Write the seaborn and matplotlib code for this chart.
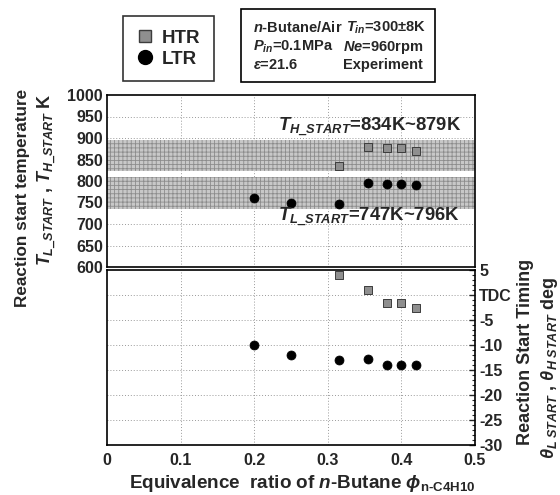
import matplotlib
matplotlib.use("Agg")
import matplotlib.pyplot as plt
from matplotlib.lines import Line2D
from matplotlib.patches import Rectangle
from matplotlib.ticker import MultipleLocator
import seaborn as sns
import pandas as pd

# Equivalence ratio of n-butane for each operating point
phi_htr = [0.315, 0.355, 0.38, 0.40, 0.42]
phi_ltr = [0.20, 0.25, 0.315, 0.355, 0.38, 0.40, 0.42]

# Reaction start temperatures [K]
t_htr = [834, 879, 876, 876, 869]
t_ltr = [761, 749, 747, 796, 794, 794, 791]

# Reaction start timing [deg ATDC]
theta_htr = [4, 1, -1.5, -1.5, -2.5]
theta_ltr = [-10, -12, -13, -12.8, -14, -14, -14]

# Shaded temperature ranges [K]
htr_band = (823, 896)
ltr_band = (736, 810)

x_ticks = [0, 0.1, 0.2, 0.3, 0.4, 0.5]
x_ticklabels = ["0", "0.1", "0.2", "0.3", "0.4", "0.5"]
theta_ticks = [5, 0, -5, -10, -15, -20, -25, -30]
theta_ticklabels = ["5", "TDC", "-5", "-10", "-15", "-20", "-25", "-30"]
temp_ticks = list(range(600, 1001, 50))

sns.set_style("white")
plt.rcParams["font.family"] = ["Liberation Sans", "DejaVu Sans"]
plt.rcParams["font.weight"] = "bold"
plt.rcParams["mathtext.fontset"] = "custom"
plt.rcParams["mathtext.rm"] = "Liberation Sans:bold"
plt.rcParams["mathtext.bf"] = "Liberation Sans:bold"
plt.rcParams["mathtext.it"] = "Liberation Sans:italic:bold"
plt.rcParams["hatch.linewidth"] = 0.6
plt.rcParams["hatch.color"] = "#8c8c8c"

df_htr = pd.DataFrame({"phi": phi_htr, "T": t_htr, "theta": theta_htr})
df_ltr = pd.DataFrame({"phi": phi_ltr, "T": t_ltr, "theta": theta_ltr})

W, H = 560, 495
fig = plt.figure(figsize=(W / 100, H / 100), dpi=100)

def fx(px):
    return px / W

def fy(py):
    return 1 - py / H

ax_t = fig.add_axes([fx(107), fy(267), fx(475) - fx(107), fy(95) - fy(267)])
ax_b = fig.add_axes([fx(107), fy(445), fx(475) - fx(107), fy(270) - fy(445)])

grid_kw = dict(color="#9a9a9a", linestyle=(0, (1, 2)), linewidth=0.7)
htr_style = dict(marker="s", s=36, color="#8f8f8f", edgecolor="#3c3c3c",
                 linewidth=0.7, zorder=3)
ltr_style = dict(marker="o", s=42, color="black", edgecolor="black", zorder=3)

# ---- upper panel: reaction start temperature ----
ax_t.set_xlim(0, 0.5)
ax_t.set_ylim(600, 1000)
for lo, hi in (htr_band, ltr_band):
    ax_t.axhspan(lo, hi, facecolor="#c8c8c8", edgecolor="#8c8c8c",
                 hatch="++++", linewidth=0, zorder=1)
for v in x_ticks[1:-1]:
    ax_t.axvline(v, zorder=0.5, **grid_kw)
for v in temp_ticks[1:-1]:
    ax_t.axhline(v, zorder=0.5, **grid_kw)

sns.scatterplot(data=df_htr, x="phi", y="T", ax=ax_t, **htr_style)
sns.scatterplot(data=df_ltr, x="phi", y="T", ax=ax_t, **ltr_style)

ax_t.set_yticks(temp_ticks)
ax_t.set_yticklabels([str(v) for v in temp_ticks], fontsize=11.5, fontweight="bold")
ax_t.yaxis.set_minor_locator(MultipleLocator(10))
ax_t.set_xticks(x_ticks)
ax_t.set_xticklabels([])
ax_t.xaxis.set_minor_locator(MultipleLocator(0.02))
ax_t.tick_params(axis="both", which="both", direction="in", top=False, right=False)
ax_t.tick_params(axis="both", which="major", length=4, width=1.0, pad=3)
ax_t.tick_params(axis="both", which="minor", length=2, width=0.8)
ax_t.set_xlabel("")
ax_t.set_ylabel("")
for s in ax_t.spines.values():
    s.set_visible(True)
    s.set_color("black")
    s.set_linewidth(1.2)

ax_t.text(0.232, 925, r"$T_{H\_START}$=834K~879K", fontsize=13.3,
          fontweight="bold", ha="left", va="center", zorder=4)
ax_t.text(0.232, 715, r"$T_{L\_START}$=747K~796K", fontsize=13.3,
          fontweight="bold", ha="left", va="center", zorder=4)

# ---- lower panel: reaction start timing ----
ax_b.set_xlim(0, 0.5)
ax_b.set_ylim(-30, 5)
for v in x_ticks[1:-1]:
    ax_b.axvline(v, zorder=0.5, **grid_kw)
for v in theta_ticks[1:-1]:
    ax_b.axhline(v, zorder=0.5, **grid_kw)

sns.scatterplot(data=df_htr, x="phi", y="theta", ax=ax_b, **htr_style)
sns.scatterplot(data=df_ltr, x="phi", y="theta", ax=ax_b, **ltr_style)

ax_b.yaxis.tick_right()
ax_b.set_yticks(theta_ticks)
ax_b.set_yticklabels(theta_ticklabels, fontsize=11.5, fontweight="bold")
ax_b.yaxis.set_minor_locator(MultipleLocator(1))
ax_b.set_xticks(x_ticks)
ax_b.set_xticklabels(x_ticklabels, fontsize=11.5, fontweight="bold")
ax_b.xaxis.set_minor_locator(MultipleLocator(0.02))
ax_b.tick_params(axis="both", which="both", direction="in", top=False,
                 left=False, right=True)
ax_b.tick_params(axis="both", which="major", length=4, width=1.0, pad=3)
ax_b.tick_params(axis="x", which="major", pad=6)
ax_b.tick_params(axis="both", which="minor", length=2, width=0.8)
ax_b.set_xlabel("")
ax_b.set_ylabel("")
for s in ax_b.spines.values():
    s.set_visible(True)
    s.set_color("black")
    s.set_linewidth(1.2)

# ---- axis titles ----
fig.text(fx(302), fy(484), r"Equivalence  ratio of $\it{n}$-Butane $\phi_{\mathrm{n\text{-}C4H10}}$",
         fontsize=13.6, fontweight="bold", ha="center", va="center")
fig.text(fx(23), fy(198), "Reaction start temperature", rotation=90,
         fontsize=12.3, fontweight="bold", ha="center", va="center")
fig.text(fx(47), fy(180), r"$T_{L\_START}$ , $T_{H\_START}$ K", rotation=90,
         fontsize=13, fontweight="bold", ha="center", va="center")
fig.text(fx(526), fy(352), "Reaction Start Timing", rotation=90,
         fontsize=13, fontweight="bold", ha="center", va="center")
fig.text(fx(549), fy(368), r"$\theta_{L\ START}$ , $\theta_{H\ START}$ deg", rotation=90,
         fontsize=13, fontweight="bold", ha="center", va="center")

# ---- symbol key ----
handles = [
    Line2D([], [], marker="s", linestyle="none", markersize=8.5,
           markerfacecolor="#8f8f8f", markeredgecolor="#3c3c3c"),
    Line2D([], [], marker="o", linestyle="none", markersize=10,
           markerfacecolor="black", markeredgecolor="black"),
]
leg = fig.legend(handles, ["HTR", "LTR"], loc="center",
                 bbox_to_anchor=(fx(168), fy(48.5)), frameon=True, fancybox=False,
                 prop={"weight": "bold", "size": 13.5}, handletextpad=0.4,
                 handlelength=1.0, borderpad=0.7, labelspacing=0.2,
                 borderaxespad=0)
leg.get_frame().set_edgecolor("black")
leg.get_frame().set_linewidth(1.2)

# ---- experimental conditions box ----
fig.patches.append(Rectangle((fx(241), fy(82)), fx(435) - fx(241), fy(9) - fy(82),
                             transform=fig.transFigure, fill=False,
                             edgecolor="black", linewidth=1.2))
cond_kw = dict(fontsize=10.5, fontweight="bold", ha="left", va="center")
fig.text(fx(253), fy(28), r"$\it{n}$-Butane/Air", **cond_kw)
fig.text(fx(346), fy(28), r"$T_{in}$=300±8K", **cond_kw)
fig.text(fx(253), fy(47), r"$P_{in}$=0.1MPa", **cond_kw)
fig.text(fx(343), fy(47), r"$Ne$=960rpm", **cond_kw)
fig.text(fx(253), fy(65), r"$\varepsilon$=21.6", **cond_kw)
fig.text(fx(343), fy(65), "Experiment", **cond_kw)

fig.savefig("out.png", dpi=100)
